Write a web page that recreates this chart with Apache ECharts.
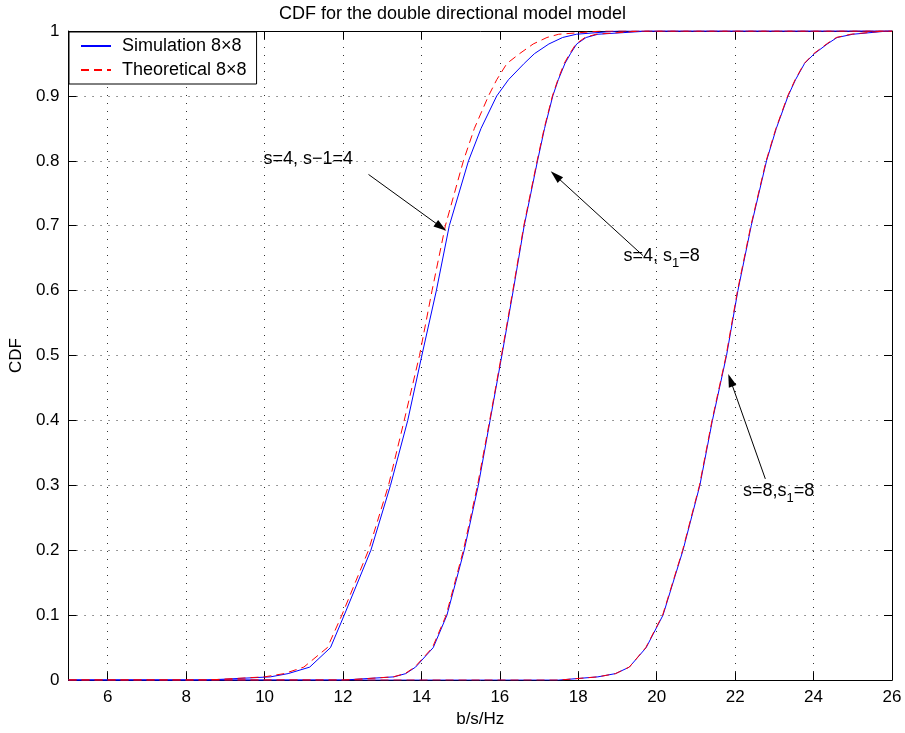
<!DOCTYPE html>
<html>
<head>
<meta charset="utf-8">
<script src="https://cdn.jsdelivr.net/npm/echarts@6/dist/echarts.min.js"></script>
<style>
html,body{margin:0;padding:0;background:#fff;}
#chart{width:905px;height:733px;}
</style>
</head>
<body>
<div id="chart"></div>
<script>
// ---- data ----
const titleText = 'CDF for the double directional model model';
const xName = 'b/s/Hz';
const yName = 'CDF';
const legendNames = ['Simulation 8×8', 'Theoretical 8×8'];
const X_MIN = 5, X_MAX = 26;
const xTicks = [6, 8, 10, 12, 14, 16, 18, 20, 22, 24, 26];
// CDF levels and the b/s/Hz value at which each curve reaches them
const cdfLevels = [0, 0.005, 0.01, 0.02, 0.05, 0.1, 0.2, 0.3, 0.4, 0.5, 0.6, 0.7, 0.8, 0.85, 0.9, 0.925, 0.95, 0.965, 0.98, 0.99, 0.995, 1];
const simS4S4  = [8.5, 10.15, 10.6, 11.15, 11.68, 12.03, 12.71, 13.21, 13.65, 14.01, 14.38, 14.71, 15.20, 15.52, 15.92, 16.22, 16.62, 16.88, 17.25, 17.6, 17.95, 19.0];
const theoS4S4 = [8.5, 10.0, 10.5, 11.0, 11.6, 11.97, 12.65, 13.16, 13.56, 13.95, 14.27, 14.61, 15.07, 15.35, 15.71, 15.92, 16.18, 16.5, 16.85, 17.2, 17.5, 18.6];
const simS4S8  = [12.0, 13.3, 13.6, 13.85, 14.3, 14.65, 15.09, 15.45, 15.75, 16.05, 16.34, 16.62, 16.96, 17.14, 17.35, 17.49, 17.66, 17.8, 17.96, 18.2, 18.5, 19.8];
const theoS4S8 = [12.0, 13.28, 13.58, 13.83, 14.28, 14.63, 15.07, 15.43, 15.74, 16.04, 16.33, 16.61, 16.95, 17.13, 17.34, 17.48, 17.64, 17.78, 17.94, 18.17, 18.45, 19.6];
const simS8S8  = [17.5, 18.5, 18.95, 19.3, 19.73, 20.16, 20.67, 21.10, 21.42, 21.78, 22.07, 22.41, 22.80, 23.05, 23.35, 23.54, 23.77, 24.02, 24.35, 24.6, 25.0, 25.9];
const theoS8S8 = [17.5, 18.5, 18.95, 19.3, 19.72, 20.15, 20.66, 21.09, 21.41, 21.77, 22.06, 22.40, 22.79, 23.04, 23.34, 23.53, 23.76, 24.0, 24.33, 24.58, 24.95, 25.8];
// annotations
const noteTexts = ['{a|s=4, s−1=4}', '{a|s=4, s}{b|1}{a|=8}', '{a|s=8,s}{b|1}{a|=8}'];
const noteAnchors = [[9.96, 0.802], [19.14, 0.653], [22.19, 0.292]];
const arrowFrom = [[12.65, 0.779], [19.65, 0.654], [22.77, 0.310]];
const arrowTo = [[14.50, 0.698], [17.42, 0.777], [21.88, 0.462]];

// ---- build ----
function curve(xs) {
  const pts = [[X_MIN, 0]];
  xs.forEach((x, i) => pts.push([x, cdfLevels[i]]));
  pts.push([X_MAX, 1]);
  return pts;
}
const FONT = '"Liberation Sans", Arial, Helvetica, sans-serif';
function lineSeries(name, xs, color, dashed) {
  return {
    name: name, type: 'line', data: curve(xs), symbol: 'none',
    smooth: false, clip: true,
    lineStyle: {color: color, width: 1, type: dashed ? [8, 5] : 'solid'},
    itemStyle: {color: color},
    animation: false, z: dashed ? 3 : 2
  };
}
const series = [
  lineSeries(legendNames[0], simS4S4, '#0000ff', false),
  lineSeries(legendNames[0], simS4S8, '#0000ff', false),
  lineSeries(legendNames[0], simS8S8, '#0000ff', false),
  lineSeries(legendNames[1], theoS4S4, '#ff0000', true),
  lineSeries(legendNames[1], theoS4S8, '#ff0000', true),
  lineSeries(legendNames[1], theoS8S8, '#ff0000', true),
  {
    name: 'notes', type: 'scatter', data: noteAnchors, symbolSize: 1,
    itemStyle: {color: 'rgba(0,0,0,0)'}, silent: true, animation: false, z: 5,
    label: {
      show: true, position: 'right', distance: 0, color: '#000', opacity: 1,
      fontFamily: FONT, fontSize: 18,
      formatter: p => noteTexts[p.dataIndex],
      rich: {
        a: {fontFamily: FONT, fontSize: 18, color: '#000', lineHeight: 28, verticalAlign: 'middle'},
        b: {fontFamily: FONT, fontSize: 13, color: '#000', lineHeight: 13, verticalAlign: 'bottom'}
      }
    },
    markLine: {
      silent: true, animation: false, symbol: ['none', 'triangle'],
      symbolSize: [0, 12],
      label: {show: false},
      lineStyle: {color: '#000', width: 1, type: 'solid'},
      data: arrowFrom.map((f, i) => [
        {coord: f, symbol: 'none'},
        {coord: arrowTo[i], symbol: 'triangle', symbolSize: [8, 13]}
      ])
    }
  }
];

const gridLine = {show: true, lineStyle: {color: '#333', width: 1, type: [1, 7]}};
const option = {
  animation: false,
  backgroundColor: '#fff',
  textStyle: {fontFamily: FONT},
  title: {
    text: titleText, left: 'center', top: 0,
    textStyle: {fontFamily: FONT, fontSize: 18, fontWeight: 'normal', color: '#000'}
  },
  legend: {
    data: legendNames, orient: 'vertical', left: 69, top: 32,
    itemWidth: 30, itemHeight: 14, itemGap: 6,
    padding: [5, 10, 5, 11],
    borderColor: '#000', borderWidth: 1, backgroundColor: '#fff',
    selectedMode: false,
    itemStyle: {color: 'rgba(0,0,0,0)', borderWidth: 0, opacity: 0},
    textStyle: {fontFamily: FONT, fontSize: 18, color: '#000', padding: [0, 0, 0, 6]}
  },
  grid: {left: 68, right: 13, top: 31, bottom: 51},
  xAxis: [
    {
      type: 'value', min: X_MIN, max: X_MAX, position: 'bottom',
      name: xName, nameLocation: 'middle', nameGap: 29,
      nameTextStyle: {fontFamily: FONT, fontSize: 17, color: '#000'},
      axisLine: {show: true, onZero: false, lineStyle: {color: '#000', width: 1}},
      axisTick: {show: true, inside: true, length: 8, customValues: xTicks, lineStyle: {color: '#000'}},
      axisLabel: {customValues: xTicks, fontFamily: FONT, fontSize: 17, color: '#000', margin: 9},
      splitLine: gridLine
    },
    {
      type: 'value', min: X_MIN, max: X_MAX, position: 'top',
      axisLine: {show: true, onZero: false, lineStyle: {color: '#000', width: 1}},
      axisTick: {show: true, inside: true, length: 8, customValues: xTicks, lineStyle: {color: '#000'}},
      axisLabel: {show: false}, splitLine: {show: false}
    }
  ],
  yAxis: [
    {
      type: 'value', min: 0, max: 1, interval: 0.1, position: 'left',
      name: yName, nameLocation: 'middle', nameGap: 38, nameRotate: 90,
      nameTextStyle: {fontFamily: FONT, fontSize: 17, color: '#000'},
      axisLine: {show: true, onZero: false, lineStyle: {color: '#000', width: 1}},
      axisTick: {show: true, inside: true, length: 8, lineStyle: {color: '#000'}},
      axisLabel: {fontFamily: FONT, fontSize: 17, color: '#000', margin: 9,
        formatter: v => String(Math.round(v * 10) / 10)},
      splitLine: gridLine
    },
    {
      type: 'value', min: 0, max: 1, interval: 0.1, position: 'right',
      axisLine: {show: true, onZero: false, lineStyle: {color: '#000', width: 1}},
      axisTick: {show: true, inside: true, length: 8, lineStyle: {color: '#000'}},
      axisLabel: {show: false}, splitLine: {show: false}
    }
  ],
  series: series
};
const chart = echarts.init(document.getElementById('chart'), null, {renderer: 'canvas'});
chart.setOption(option);
</script>
</body>
</html>
